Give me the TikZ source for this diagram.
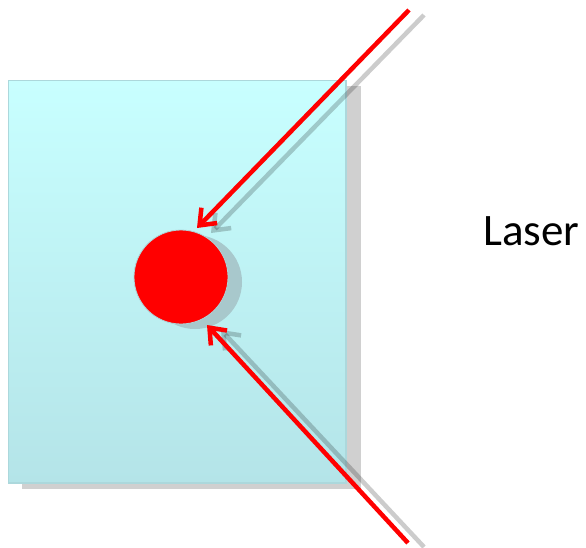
\documentclass[tikz,border=0pt]{standalone}
\usepackage{fontspec}
\setmainfont{Carlito}
\usetikzlibrary{arrows.meta}
\definecolor{boxtop}{HTML}{C8FFFF}
\definecolor{boxbot}{HTML}{B4E4E8}
\definecolor{boxedge}{HTML}{ACD8DC}
\definecolor{boxshadow}{HTML}{D0D0D0}
\definecolor{ballshadow}{HTML}{A8C8CC}
\tikzset{
  beam/.style={draw=red, line width=4.5pt, -{Straight Barb[length=14pt,width=22pt,line width=4.5pt]}},
  beamshadow/.style={draw=black, draw opacity=0.2, line width=4.5pt, -{Straight Barb[length=14pt,width=22pt,line width=4.5pt]}},
}
\begin{document}
\begin{tikzpicture}[x=1pt,y=-1pt]
\useasboundingbox (0,0) rectangle (586,547);
% box shadow
\fill[boxshadow] (22,86) rectangle (361,489);
% box
\path[top color=boxtop, bottom color=boxbot, draw=boxedge, line width=1.2pt] (8.5,80.5) rectangle (346,483);
% ball
\fill[ballshadow] (195,282) circle[radius=47];
\node[circle, fill=red, draw=boxedge, line width=0.8pt, minimum size=94pt, inner sep=0pt] (ball) at (181,277) {};
% beams
\coordinate (s1) at (409,10);
\coordinate (s1b) at (424,15);
\coordinate (t1) at (197,228);
\coordinate (t1b) at (211,233);
\coordinate (s2) at (408,543);
\coordinate (s2b) at (424,547);
\coordinate (t2) at (207,325);
\coordinate (t2b) at (221,330);
\draw[beamshadow] (s1b) -- (t1b);
\draw[beamshadow] (s2b) -- (t2b);
\draw[beam] (s1) -- (t1);
\draw[beam] (s2) -- (t2);
\node[font=\fontsize{45}{54}\selectfont, anchor=base west, inner sep=0pt] (laser) at (483,245) {Laser};
\end{tikzpicture}
\end{document}
